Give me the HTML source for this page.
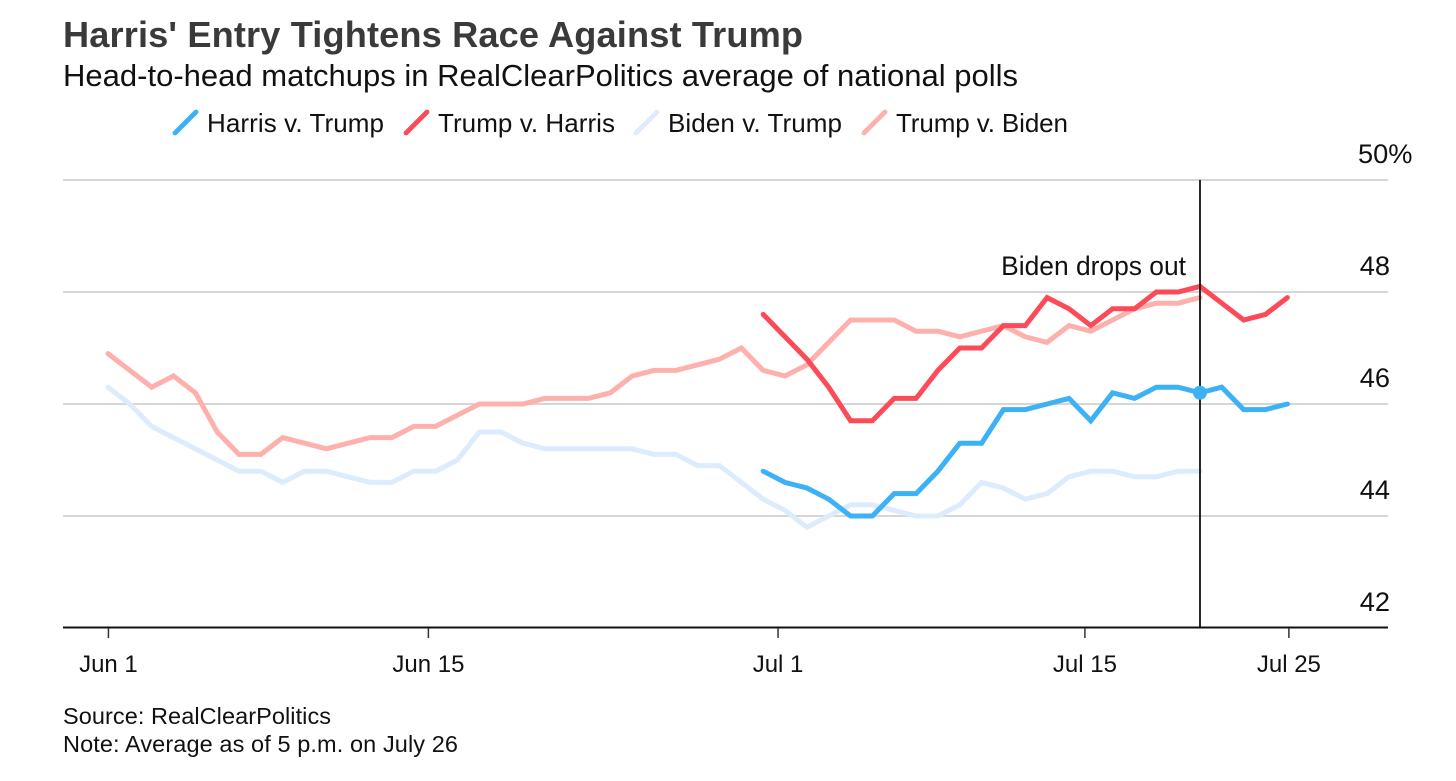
<!DOCTYPE html>
<html lang="en">
<head>
<meta charset="utf-8">
<title>Harris' Entry Tightens Race Against Trump</title>
<style>
  html,body{margin:0;padding:0;background:#fff;width:1456px;height:781px;overflow:hidden}
  svg{display:block;font-family:"Liberation Sans",Arial,sans-serif}
</style>
</head>
<body>
<svg id="chart" xmlns="http://www.w3.org/2000/svg" width="1456" height="781" viewBox="0 0 1456 781">
  <text x="63" y="47" font-size="36.2" font-weight="700" fill="#3a3a3a" textLength="740">Harris' Entry Tightens Race Against Trump</text>
  <text x="63" y="86" font-size="31" fill="#111" textLength="955">Head-to-head matchups in RealClearPolitics average of national polls</text>

  <g>
    <g>
      <line x1="175" y1="133" x2="196" y2="112" stroke="#3cb1f5" stroke-width="4.8" stroke-linecap="round"/>
      <text x="207" y="132" font-size="26" fill="#111" textLength="177">Harris v. Trump</text>
    </g>
    <g>
      <line x1="406" y1="133" x2="427" y2="112" stroke="#fb4b59" stroke-width="4.8" stroke-linecap="round"/>
      <text x="438" y="132" font-size="26" fill="#111" textLength="177">Trump v. Harris</text>
    </g>
    <g>
      <line x1="636" y1="133" x2="657" y2="112" stroke="#dcecfd" stroke-width="4.8" stroke-linecap="round"/>
      <text x="668" y="132" font-size="26" fill="#111" textLength="174">Biden v. Trump</text>
    </g>
    <g>
      <line x1="864" y1="133" x2="885" y2="112" stroke="#fdb0ac" stroke-width="4.8" stroke-linecap="round"/>
      <text x="896" y="132" font-size="26" fill="#111" textLength="172">Trump v. Biden</text>
    </g>
  </g>

  <g id="grid"></g>
  <g id="ylabels"></g>
  <g id="series"></g>
  <g id="annotation"></g>
  <g id="xaxis"></g>

  <text x="63" y="724" font-size="23.5" fill="#111" textLength="268">Source: RealClearPolitics</text>
  <text x="63" y="752" font-size="23.5" fill="#111" textLength="395">Note: Average as of 5 p.m. on July 26</text>
</svg>

<script>
// Day index 0 = Jun 1; one reading per index
const trumpVBiden = [46.9,46.6,46.3,46.5,46.2,45.5,45.1,45.1,45.4,45.3,45.2,45.3,45.4,45.4,45.6,45.6,45.8,46.0,46.0,46.0,46.1,46.1,46.1,46.2,46.5,46.6,46.6,46.7,46.8,47.0,46.6,46.5,46.7,47.1,47.5,47.5,47.5,47.3,47.3,47.2,47.3,47.4,47.2,47.1,47.4,47.3,47.5,47.7,47.8,47.8,47.9];
const bidenVTrump = [46.3,46.0,45.6,45.4,45.2,45.0,44.8,44.8,44.6,44.8,44.8,44.7,44.6,44.6,44.8,44.8,45.0,45.5,45.5,45.3,45.2,45.2,45.2,45.2,45.2,45.1,45.1,44.9,44.9,44.6,44.3,44.1,43.8,44.0,44.2,44.2,44.1,44.0,44.0,44.2,44.6,44.5,44.3,44.4,44.7,44.8,44.8,44.7,44.7,44.8,44.8];
// These two series begin at index 30
const harrisVTrump = [44.8,44.6,44.5,44.3,44.0,44.0,44.4,44.4,44.8,45.3,45.3,45.9,45.9,46.0,46.1,45.7,46.2,46.1,46.3,46.3,46.2,46.3,45.9,45.9,46.0];
const trumpVHarris = [47.6,47.2,46.8,46.3,45.7,45.7,46.1,46.1,46.6,47.0,47.0,47.4,47.4,47.9,47.7,47.4,47.7,47.7,48.0,48.0,48.1,47.8,47.5,47.6,47.9];
const harrisStartDay = 30;
const bidenStartDay = 0;

const yTicks = [50,48,46,44,42];
const yTickLabels = ["50%","48","46","44","42"];
const xTickDays = [0.02,14.67,30.68,44.73,54.07];
const xTickLabels = ["Jun 1","Jun 15","Jul 1","Jul 15","Jul 25"];
const dropoutDay = 50;
const dropoutValue = 46.2;
const dropoutLabel = "Biden drops out";

const NS = "http://www.w3.org/2000/svg";
function xScale(day){ return 108 + day * 21.84; }
function yScale(v){ return 180 + (50 - v) * 56; }
function mk(tag, attrs, parent, text){
  const e = document.createElementNS(NS, tag);
  for (const k in attrs) e.setAttribute(k, attrs[k]);
  if (text !== undefined) e.textContent = text;
  parent.appendChild(e);
  return e;
}

const grid = document.getElementById("grid");
const ylabels = document.getElementById("ylabels");
yTicks.forEach(function(t, i){
  if (t !== 42) {
    const g = mk("line", {x1:63, x2:1388, y1:yScale(t), y2:yScale(t), stroke:"#d6d6d6", "stroke-width":2}, grid);
    
    
  }
  const isTop = i === 0;
  const lab = mk("text", {x: isTop ? 1358 : 1390, y: yScale(t) - 17, "font-size":27.2, fill:"#111", "text-anchor": isTop ? "start" : "end"}, ylabels, yTickLabels[i]);
  
  
});

const seriesGroup = document.getElementById("series");
function drawSeries(values, start, color, width){
  const pts = values.map(function(v, i){ return xScale(start + i).toFixed(1) + "," + yScale(v).toFixed(1); }).join(" ");
  return mk("polyline", {points:pts, fill:"none", stroke:color, "stroke-width":width, "stroke-linejoin":"miter", "stroke-linecap":"round"}, seriesGroup);
}
const lineBiden = drawSeries(bidenVTrump, bidenStartDay, "#dcecfd", 5);


const lineTrumpBiden = drawSeries(trumpVBiden, bidenStartDay, "#fdb0ac", 5);


const lineHarris = drawSeries(harrisVTrump, harrisStartDay, "#3cb1f5", 5);


const lineTrumpHarris = drawSeries(trumpVHarris, harrisStartDay, "#fb4b59", 5);



const ann = document.getElementById("annotation");
const vline = mk("line", {x1:xScale(dropoutDay), x2:xScale(dropoutDay), y1:yScale(50), y2:628, stroke:"#111", "stroke-width":1.8}, ann);


const dot = mk("circle", {cx:xScale(dropoutDay), cy:yScale(dropoutValue), r:7, fill:"#3cb1f5"}, ann);


const annText = mk("text", {x:1186, y:275, "font-size":26.4, fill:"#111", "text-anchor":"end"}, ann, dropoutLabel);



const xaxis = document.getElementById("xaxis");
const base = mk("line", {x1:63, x2:1388, y1:627.5, y2:627.5, stroke:"#111", "stroke-width":2}, xaxis);


xTickDays.forEach(function(d, i){
  const x = xScale(d);
  const tick = mk("line", {x1:x, x2:x, y1:628, y2:638, stroke:"#333", "stroke-width":1.5}, xaxis);
  
  
  const lab = mk("text", {x:x, y:672, "font-size":24, fill:"#111", "text-anchor":"middle"}, xaxis, xTickLabels[i]);
  
  
});
</script>
</body>
</html>
